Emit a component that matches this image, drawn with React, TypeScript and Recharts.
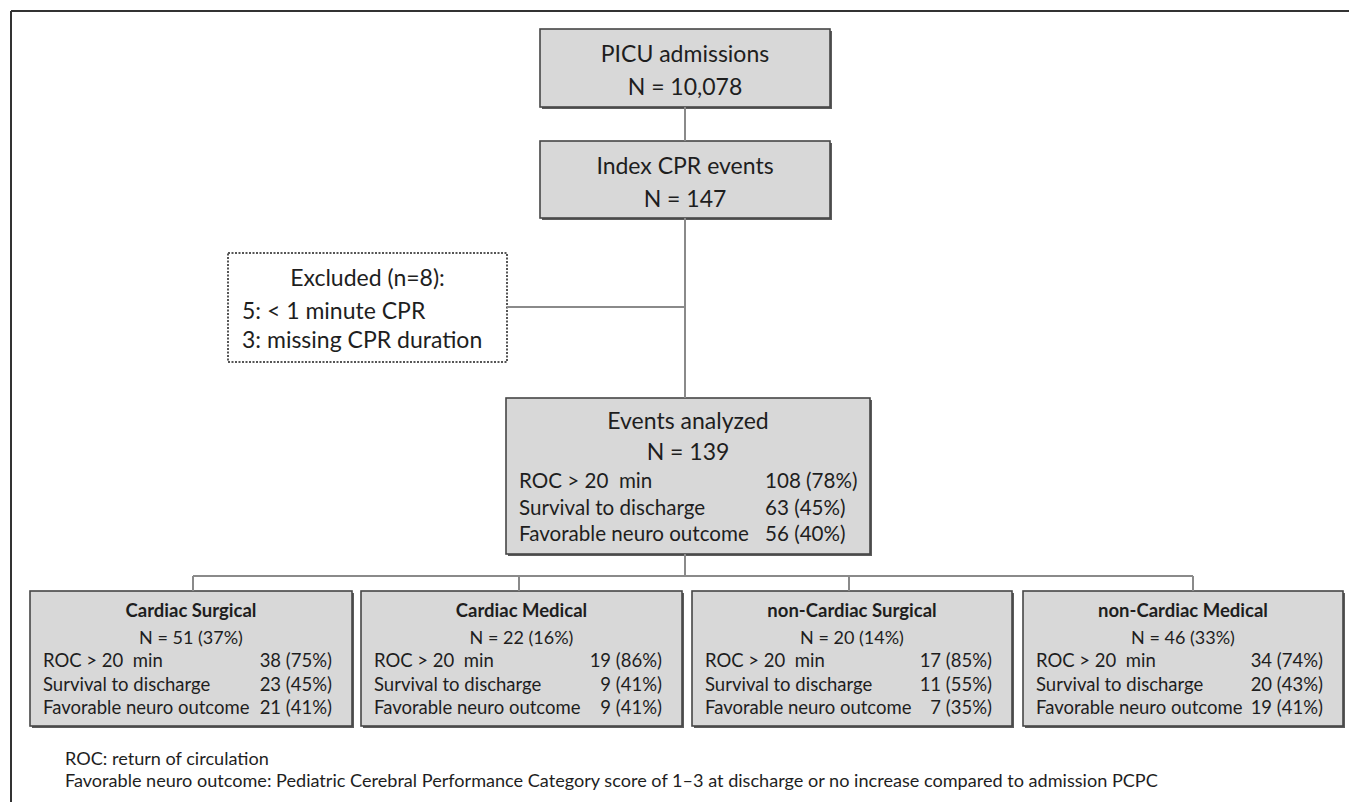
import React from "react";
import { ScatterChart, Scatter, XAxis, YAxis, ReferenceArea, ReferenceLine } from "recharts";

// ---------- DATA ----------
const topStages = ["PICU admissions", "Index CPR events"];
const topCounts = [10078, 147];

const excludedTotal = 8;
const excludedCounts = [5, 3];
const excludedReasons = ["< 1 minute CPR", "missing CPR duration"];

const analyzedLabel = "Events analyzed";
const analyzedN = 139;
const outcomeLabels = ["ROC > 20  min", "Survival to discharge", "Favorable neuro outcome"];
const analyzedCounts = [108, 63, 56];
const analyzedPcts = [78, 45, 40];

const groups = ["Cardiac Surgical", "Cardiac Medical", "non-Cardiac Surgical", "non-Cardiac Medical"];
const groupN = [51, 22, 20, 46];
const groupPct = [37, 16, 14, 33];
const rocCounts = [38, 19, 17, 34];
const rocPcts = [75, 86, 85, 74];
const survivalCounts = [23, 9, 11, 20];
const survivalPcts = [45, 41, 55, 43];
const favorableCounts = [21, 9, 7, 19];
const favorablePcts = [41, 41, 35, 41];

const footnotes = [
  "ROC: return of circulation",
  "Favorable neuro outcome: Pediatric Cerebral Performance Category score of 1\u20133 at discharge or no increase compared to admission PCPC",
];

// ---------- LAYOUT (axis units) ----------
const W = 1349;
const H = 802;
const FONT = "Lato, 'Open Sans', sans-serif";
const topBoxes = [
  { x1: 540, x2: 830, y1: 29, y2: 107 },
  { x1: 540, x2: 830, y1: 141, y2: 218 },
];
const excludedBox = { x1: 228, x2: 507, y1: 253, y2: 362 };
const analyzedBox = { x1: 506, x2: 870, y1: 398, y2: 554 };
const groupXs = [
  [30, 352],
  [361, 682],
  [692, 1012],
  [1023, 1343],
];
const groupY = [591, 726];
const spineX = 685;
const excludeY = 307;
const branchY = 576;
const dropXs = [193, 519, 849, 1193];

const fmt = (n: number) => n.toLocaleString("en-US");
const cp = (c: number, p: number) => `${c} (${p}%)`;

type T = { x: number; y: number; text: string; size: number; anchor?: string; weight?: number };
const texts: T[] = [];

topStages.forEach((s, i) => {
  const b = topBoxes[i];
  const cx = (b.x1 + b.x2) / 2;
  texts.push({ x: cx, y: b.y1 + 23.5, text: s, size: 23 });
  texts.push({ x: cx, y: b.y1 + 56.5, text: `N = ${fmt(topCounts[i])}`, size: 23 });
});

texts.push({ x: (excludedBox.x1 + excludedBox.x2) / 2, y: 277, text: `Excluded (n=${excludedTotal}):`, size: 23 });
excludedReasons.forEach((r, i) => {
  texts.push({ x: excludedBox.x1 + 14, y: 310 + i * 29, text: `${excludedCounts[i]}: ${r}`, size: 23, anchor: "start" });
});

const acx = (analyzedBox.x1 + analyzedBox.x2) / 2;
texts.push({ x: acx, y: 420, text: analyzedLabel, size: 23 });
texts.push({ x: acx, y: 451, text: `N = ${analyzedN}`, size: 23 });
outcomeLabels.forEach((l, i) => {
  texts.push({ x: analyzedBox.x1 + 13, y: 480 + i * 26.5, text: l, size: 20.6, anchor: "start" });
  texts.push({ x: 765, y: 480 + i * 26.5, text: cp(analyzedCounts[i], analyzedPcts[i]), size: 20.6, anchor: "start" });
});

groups.forEach((g, i) => {
  const [x1, x2] = groupXs[i];
  const cx = (x1 + x2) / 2;
  texts.push({ x: cx, y: 610, text: g, size: 18.5, weight: 700 });
  texts.push({ x: cx, y: 637, text: `N = ${groupN[i]} (${groupPct[i]}%)`, size: 18 });
  const vals = [cp(rocCounts[i], rocPcts[i]), cp(survivalCounts[i], survivalPcts[i]), cp(favorableCounts[i], favorablePcts[i])];
  outcomeLabels.forEach((l, j) => {
    texts.push({ x: x1 + 13, y: 660 + j * 23.5, text: l, size: 18.5, anchor: "start" });
    texts.push({ x: x2 - 20, y: 660 + j * 23.5, text: vals[j], size: 18.5, anchor: "end" });
  });
});

footnotes.forEach((f, i) => {
  texts.push({ x: 65, y: 758 + i * 22, text: f, size: 18.1, anchor: "start" });
});

const Box = (props: any) => {
  const { x, y, width, height } = props;
  return (
    <g>
      <rect x={x + 2} y={y + 2} width={width} height={height} fill="#5c5c5c" />
      <rect x={x} y={y} width={width} height={height} fill="#d8d8d8" stroke="#464646" strokeWidth={1.6} />
    </g>
  );
};

const DashBox = (props: any) => {
  const { x, y, width, height } = props;
  return <rect x={x} y={y} width={width} height={height} fill="#ffffff" stroke="#555" strokeWidth={2} strokeDasharray="2 1.5" />;
};

const TextShape = (props: any) => {
  const { cx, cy, payload } = props;
  return (
    <text
      x={cx}
      y={cy}
      textAnchor={payload.anchor || "middle"}
      dominantBaseline="central"
      fontFamily={FONT}
      fontSize={payload.size}
      fontWeight={payload.weight || 400}
      fill="#1e1e1e"
      style={{ whiteSpace: "pre" }}
    >
      {payload.text}
    </text>
  );
};

const lineStyle = { stroke: "#8a8a8a", strokeWidth: 2 };

export default function App() {
  return (
    <div style={{ width: W, height: H, background: "#fff" }}>
      <style>{"body{margin:0;background:#fff}"}</style>
      <ScatterChart width={W} height={H} margin={{ top: 0, right: 0, bottom: 0, left: 0 }}>
        <XAxis type="number" dataKey="x" domain={[0, W]} allowDataOverflow hide />
        <YAxis type="number" dataKey="y" domain={[0, H]} allowDataOverflow reversed hide />
        {/* outer frame */}
        <ReferenceLine segment={[{ x: 11, y: 11 }, { x: W, y: 11 }]} stroke="#333" strokeWidth={2} ifOverflow="visible" />
        <ReferenceLine segment={[{ x: 11, y: 11 }, { x: 11, y: H }]} stroke="#333" strokeWidth={2} ifOverflow="visible" />
        {/* connectors */}
        <ReferenceLine segment={[{ x: spineX, y: topBoxes[0].y2 }, { x: spineX, y: topBoxes[1].y1 }]} {...lineStyle} />
        <ReferenceLine segment={[{ x: spineX, y: topBoxes[1].y2 }, { x: spineX, y: analyzedBox.y1 }]} {...lineStyle} />
        <ReferenceLine segment={[{ x: excludedBox.x2, y: excludeY }, { x: spineX, y: excludeY }]} {...lineStyle} />
        <ReferenceLine segment={[{ x: spineX, y: analyzedBox.y2 }, { x: spineX, y: branchY }]} {...lineStyle} />
        <ReferenceLine segment={[{ x: dropXs[0], y: branchY }, { x: dropXs[dropXs.length - 1], y: branchY }]} {...lineStyle} />
        {dropXs.map((dx, i) => (
          <ReferenceLine key={"d" + i} segment={[{ x: dx, y: branchY }, { x: dx, y: groupY[0] }]} {...lineStyle} />
        ))}
        {/* boxes */}
        {topBoxes.map((b, i) => (
          <ReferenceArea key={"t" + i} x1={b.x1} x2={b.x2} y1={b.y1} y2={b.y2} shape={Box} ifOverflow="visible" />
        ))}
        <ReferenceArea x1={excludedBox.x1} x2={excludedBox.x2} y1={excludedBox.y1} y2={excludedBox.y2} shape={DashBox} ifOverflow="visible" />
        <ReferenceArea x1={analyzedBox.x1} x2={analyzedBox.x2} y1={analyzedBox.y1} y2={analyzedBox.y2} shape={Box} ifOverflow="visible" />
        {groupXs.map(([x1, x2], i) => (
          <ReferenceArea key={"g" + i} x1={x1} x2={x2} y1={groupY[0]} y2={groupY[1]} shape={Box} ifOverflow="visible" />
        ))}
        <Scatter data={texts} shape={TextShape} isAnimationActive={false} />
      </ScatterChart>
    </div>
  );
}
